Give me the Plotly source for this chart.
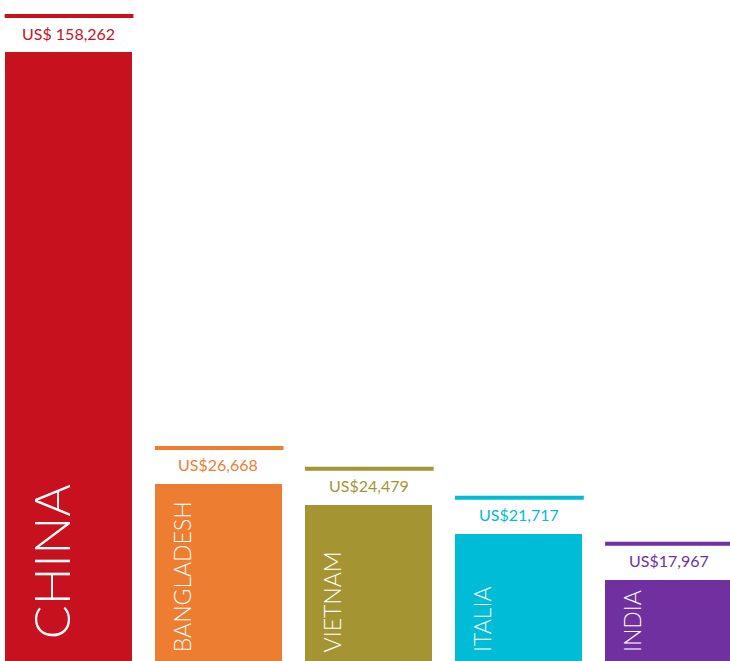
import math
import plotly.graph_objects as go

# Export values by country (US$)
countries = ["CHINA", "BANGLADESH", "VIETNAM", "ITALIA", "INDIA"]
values = [158262, 26668, 24479, 21717, 17967]
value_labels = ["US$ 158,262", "US$26,668", "US$24,479", "US$21,717", "US$17,967"]
colors = ["#C8111E", "#ED7D31", "#A59432", "#00BCD6", "#7030A0"]
name_sizes = [50, 23, 23, 23, 23]

BAR_W = 0.848
x = list(range(len(countries)))

fig = go.Figure(
    go.Bar(
        x=x,
        y=values,
        width=BAR_W,
        marker=dict(color=colors, line=dict(width=0)),
        hoverinfo="skip",
    )
)

shapes = []
annotations = []
for i, (v, lab, col, name, fs) in enumerate(zip(values, value_labels, colors, countries, name_sizes)):
    # thick rule above each bar
    shapes.append(dict(
        type="rect", xref="x", yref="y", ysizemode="pixel", yanchor=v,
        x0=i - BAR_W / 2, x1=i + BAR_W / 2 + 0.01, y0=34, y1=38,
        fillcolor=col, line=dict(width=0),
    ))
    # value label between the rule and the bar
    annotations.append(dict(
        x=i, y=math.log10(v), xref="x", yref="y", yshift=19,
        text=lab, showarrow=False, xanchor="center", yanchor="middle",
        font=dict(family="Lato", size=16, color=col),
    ))
    # country name written vertically inside the bar
    annotations.append(dict(
        x=i - BAR_W / 2, y=0, xref="x", yref="paper",
        xshift=(14 if i == 0 else 11), yshift=(20 if i == 0 else 7),
        text=name, textangle=-90, showarrow=False,
        xanchor="left", yanchor="bottom",
        font=dict(family="Lato", size=fs, color="white", weight=300),
    ))

fig.update_layout(
    width=730, height=661,
    margin=dict(l=0, r=0, t=0, b=0),
    paper_bgcolor="white", plot_bgcolor="white",
    showlegend=False,
    bargap=0,
    xaxis=dict(range=[-0.455, 4.408], visible=False, fixedrange=True),
    yaxis=dict(type="log", range=[4.1089, 5.2927], visible=False, fixedrange=True),
    shapes=shapes,
    annotations=annotations,
)

fig.write_html("out.html")
